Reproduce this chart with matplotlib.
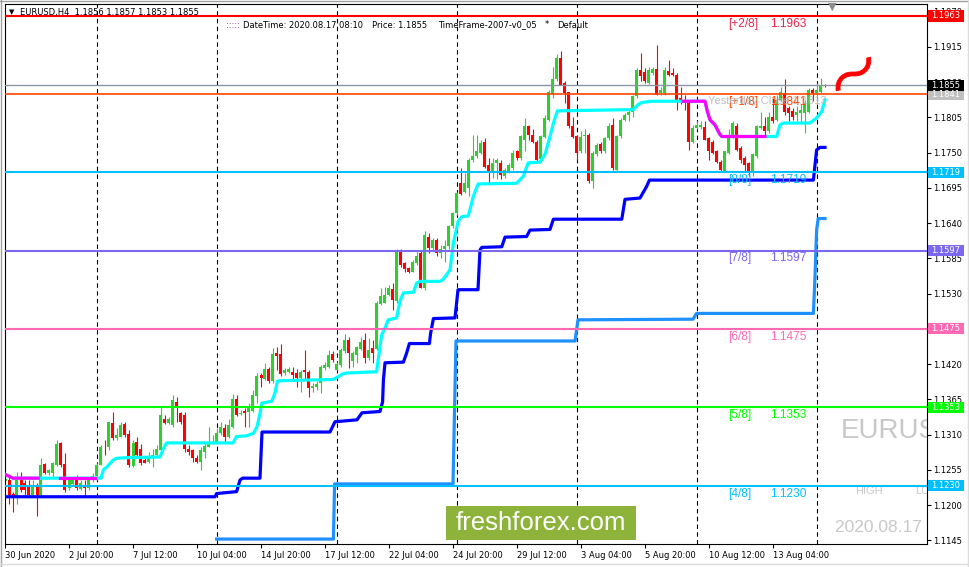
import matplotlib
matplotlib.use('Agg')
import matplotlib.pyplot as plt
import numpy as np
from matplotlib.patches import Rectangle, PathPatch
from matplotlib.lines import Line2D
from matplotlib.textpath import TextPath
from matplotlib.font_manager import FontProperties
from matplotlib.transforms import blended_transform_factory, Affine2D, ScaledTranslation

# EURUSD H4 candles, 30 Jun 04:00 .. 17 Aug 08:00 (one entry per bar)
opens = [
    1.1237, 1.1239, 1.1217, 1.1213, 1.1244, 1.1235, 1.1229, 1.1216, 1.1230, 1.1216,
    1.1264, 1.1250, 1.1250, 1.1263, 1.1297, 1.1264, 1.1226, 1.1233, 1.1244, 1.1225,
    1.1230, 1.1226, 1.1242, 1.1246, 1.1262, 1.1291, 1.1291, 1.1328, 1.1304, 1.1307,
    1.1327, 1.1311, 1.1261, 1.1299, 1.1287, 1.1270, 1.1268, 1.1274, 1.1278, 1.1286,
    1.1335, 1.1328, 1.1325, 1.1361, 1.1343, 1.1340, 1.1288, 1.1286, 1.1274, 1.1268,
    1.1283, 1.1291, 1.1296, 1.1299, 1.1312, 1.1320, 1.1307, 1.1322, 1.1366, 1.1342,
    1.1347, 1.1346, 1.1347, 1.1370, 1.1403, 1.1396, 1.1412, 1.1393, 1.1438, 1.1436,
    1.1406, 1.1408, 1.1408, 1.1406, 1.1398, 1.1410, 1.1408, 1.1382, 1.1385, 1.1390,
    1.1414, 1.1416, 1.1436, 1.1411, 1.1419, 1.1440, 1.1458, 1.1425, 1.1434, 1.1443,
    1.1457, 1.1429, 1.1445, 1.1443, 1.1514, 1.1516, 1.1528, 1.1537, 1.1518, 1.1596,
    1.1577, 1.1570, 1.1564, 1.1577, 1.1593, 1.1538, 1.1619, 1.1601, 1.1614, 1.1594,
    1.1600, 1.1604, 1.1635, 1.1656, 1.1703, 1.1689, 1.1695, 1.1738, 1.1744, 1.1750,
    1.1766, 1.1731, 1.1721, 1.1733, 1.1734, 1.1714, 1.1719, 1.1726, 1.1752, 1.1741,
    1.1770, 1.1791, 1.1778, 1.1767, 1.1740, 1.1775, 1.1801, 1.1843, 1.1864, 1.1897,
    1.1858, 1.1844, 1.1791, 1.1775, 1.1752, 1.1776, 1.1778, 1.1705, 1.1747, 1.1764,
    1.1752, 1.1773, 1.1793, 1.1723, 1.1776, 1.1801, 1.1809, 1.1814, 1.1838, 1.1878,
    1.1875, 1.1858, 1.1874, 1.1880, 1.1843, 1.1843, 1.1877, 1.1874, 1.1871, 1.1835,
    1.1832, 1.1827, 1.1767, 1.1788, 1.1790, 1.1790, 1.1773, 1.1767, 1.1752, 1.1735,
    1.1721, 1.1750, 1.1773, 1.1791, 1.1757, 1.1741, 1.1733, 1.1718, 1.1744, 1.1788,
    1.1791, 1.1783, 1.1806, 1.1801, 1.1832, 1.1843, 1.1819, 1.1814, 1.1809, 1.1812,
    1.1812, 1.1814, 1.1848, 1.1843, 1.1845, 1.1856]
highs = [
    1.1250, 1.1244, 1.1220, 1.1252, 1.1252, 1.1239, 1.1239, 1.1239, 1.1234, 1.1273,
    1.1266, 1.1257, 1.1268, 1.1301, 1.1299, 1.1281, 1.1242, 1.1244, 1.1247, 1.1239,
    1.1239, 1.1244, 1.1250, 1.1265, 1.1294, 1.1301, 1.1330, 1.1346, 1.1320, 1.1330,
    1.1330, 1.1317, 1.1301, 1.1307, 1.1296, 1.1273, 1.1283, 1.1288, 1.1294, 1.1353,
    1.1340, 1.1338, 1.1372, 1.1369, 1.1346, 1.1346, 1.1294, 1.1288, 1.1278, 1.1291,
    1.1299, 1.1322, 1.1309, 1.1320, 1.1330, 1.1327, 1.1335, 1.1374, 1.1372, 1.1348,
    1.1351, 1.1359, 1.1380, 1.1406, 1.1406, 1.1421, 1.1416, 1.1445, 1.1447, 1.1452,
    1.1414, 1.1416, 1.1416, 1.1412, 1.1411, 1.1442, 1.1411, 1.1390, 1.1393, 1.1419,
    1.1424, 1.1442, 1.1440, 1.1424, 1.1445, 1.1467, 1.1463, 1.1440, 1.1448, 1.1463,
    1.1468, 1.1460, 1.1458, 1.1518, 1.1538, 1.1541, 1.1544, 1.1546, 1.1599, 1.1599,
    1.1580, 1.1572, 1.1583, 1.1596, 1.1596, 1.1627, 1.1624, 1.1616, 1.1617, 1.1606,
    1.1614, 1.1637, 1.1658, 1.1689, 1.1726, 1.1718, 1.1741, 1.1778, 1.1778, 1.1770,
    1.1773, 1.1741, 1.1741, 1.1741, 1.1739, 1.1726, 1.1734, 1.1754, 1.1754, 1.1778,
    1.1804, 1.1793, 1.1786, 1.1770, 1.1778, 1.1809, 1.1848, 1.1884, 1.1904, 1.1908,
    1.1861, 1.1845, 1.1806, 1.1778, 1.1783, 1.1786, 1.1780, 1.1752, 1.1765, 1.1766,
    1.1775, 1.1796, 1.1804, 1.1778, 1.1804, 1.1812, 1.1817, 1.1840, 1.1882, 1.1905,
    1.1882, 1.1883, 1.1884, 1.1918, 1.1853, 1.1884, 1.1895, 1.1882, 1.1874, 1.1853,
    1.1840, 1.1830, 1.1793, 1.1799, 1.1799, 1.1799, 1.1775, 1.1770, 1.1754, 1.1739,
    1.1752, 1.1786, 1.1799, 1.1796, 1.1760, 1.1744, 1.1736, 1.1749, 1.1793, 1.1814,
    1.1806, 1.1814, 1.1835, 1.1840, 1.1853, 1.1864, 1.1822, 1.1819, 1.1822, 1.1825,
    1.1832, 1.1850, 1.1851, 1.1858, 1.1866, 1.1857]
lows = [
    1.1230, 1.1202, 1.1190, 1.1202, 1.1221, 1.1216, 1.1213, 1.1213, 1.1183, 1.1213,
    1.1248, 1.1247, 1.1244, 1.1261, 1.1260, 1.1221, 1.1223, 1.1230, 1.1223, 1.1223,
    1.1216, 1.1223, 1.1236, 1.1239, 1.1262, 1.1278, 1.1286, 1.1302, 1.1302, 1.1307,
    1.1307, 1.1260, 1.1260, 1.1276, 1.1262, 1.1265, 1.1266, 1.1260, 1.1275, 1.1283,
    1.1327, 1.1327, 1.1322, 1.1330, 1.1327, 1.1283, 1.1278, 1.1268, 1.1265, 1.1254,
    1.1273, 1.1291, 1.1296, 1.1299, 1.1309, 1.1299, 1.1304, 1.1320, 1.1339, 1.1340,
    1.1322, 1.1322, 1.1346, 1.1359, 1.1385, 1.1395, 1.1390, 1.1391, 1.1411, 1.1401,
    1.1403, 1.1406, 1.1395, 1.1385, 1.1376, 1.1395, 1.1369, 1.1377, 1.1380, 1.1375,
    1.1411, 1.1414, 1.1424, 1.1410, 1.1416, 1.1438, 1.1414, 1.1416, 1.1421, 1.1442,
    1.1421, 1.1427, 1.1421, 1.1442, 1.1512, 1.1515, 1.1526, 1.1505, 1.1515, 1.1572,
    1.1564, 1.1562, 1.1563, 1.1575, 1.1538, 1.1536, 1.1593, 1.1596, 1.1588, 1.1585,
    1.1580, 1.1599, 1.1632, 1.1653, 1.1684, 1.1687, 1.1682, 1.1736, 1.1741, 1.1747,
    1.1726, 1.1702, 1.1710, 1.1709, 1.1708, 1.1710, 1.1718, 1.1723, 1.1739, 1.1739,
    1.1752, 1.1770, 1.1765, 1.1736, 1.1736, 1.1773, 1.1799, 1.1835, 1.1861, 1.1856,
    1.1827, 1.1788, 1.1773, 1.1739, 1.1749, 1.1749, 1.1702, 1.1695, 1.1745, 1.1749,
    1.1749, 1.1770, 1.1723, 1.1721, 1.1773, 1.1799, 1.1799, 1.1806, 1.1835, 1.1861,
    1.1858, 1.1857, 1.1871, 1.1840, 1.1840, 1.1840, 1.1869, 1.1869, 1.1817, 1.1825,
    1.1817, 1.1754, 1.1765, 1.1786, 1.1786, 1.1770, 1.1739, 1.1747, 1.1734, 1.1721,
    1.1721, 1.1747, 1.1773, 1.1752, 1.1734, 1.1721, 1.1713, 1.1713, 1.1741, 1.1786,
    1.1778, 1.1780, 1.1796, 1.1799, 1.1830, 1.1809, 1.1799, 1.1801, 1.1799, 1.1796,
    1.1781, 1.1812, 1.1830, 1.1838, 1.1843, 1.1853]
closes = [
    1.1240, 1.1216, 1.1212, 1.1239, 1.1223, 1.1223, 1.1216, 1.1231, 1.1216, 1.1262,
    1.1250, 1.1254, 1.1265, 1.1296, 1.1262, 1.1223, 1.1239, 1.1240, 1.1226, 1.1234,
    1.1226, 1.1242, 1.1246, 1.1262, 1.1291, 1.1290, 1.1330, 1.1304, 1.1309, 1.1325,
    1.1309, 1.1262, 1.1297, 1.1278, 1.1265, 1.1266, 1.1275, 1.1278, 1.1288, 1.1340,
    1.1328, 1.1334, 1.1364, 1.1351, 1.1330, 1.1288, 1.1283, 1.1273, 1.1268, 1.1286,
    1.1292, 1.1296, 1.1299, 1.1312, 1.1322, 1.1307, 1.1325, 1.1366, 1.1340, 1.1344,
    1.1343, 1.1353, 1.1372, 1.1402, 1.1398, 1.1412, 1.1393, 1.1435, 1.1433, 1.1405,
    1.1411, 1.1413, 1.1403, 1.1398, 1.1408, 1.1407, 1.1382, 1.1386, 1.1389, 1.1415,
    1.1419, 1.1434, 1.1427, 1.1420, 1.1442, 1.1457, 1.1437, 1.1437, 1.1447, 1.1455,
    1.1429, 1.1442, 1.1437, 1.1515, 1.1526, 1.1528, 1.1538, 1.1520, 1.1596, 1.1575,
    1.1568, 1.1564, 1.1580, 1.1588, 1.1538, 1.1622, 1.1601, 1.1614, 1.1593, 1.1600,
    1.1604, 1.1635, 1.1656, 1.1687, 1.1686, 1.1703, 1.1739, 1.1744, 1.1752, 1.1765,
    1.1728, 1.1721, 1.1734, 1.1738, 1.1715, 1.1723, 1.1731, 1.1750, 1.1741, 1.1775,
    1.1791, 1.1778, 1.1767, 1.1739, 1.1775, 1.1804, 1.1845, 1.1865, 1.1897, 1.1856,
    1.1843, 1.1791, 1.1775, 1.1749, 1.1775, 1.1778, 1.1705, 1.1749, 1.1762, 1.1752,
    1.1773, 1.1792, 1.1726, 1.1776, 1.1801, 1.1809, 1.1814, 1.1838, 1.1878, 1.1870,
    1.1861, 1.1878, 1.1880, 1.1840, 1.1848, 1.1879, 1.1871, 1.1871, 1.1832, 1.1830,
    1.1828, 1.1767, 1.1788, 1.1793, 1.1793, 1.1770, 1.1752, 1.1749, 1.1736, 1.1723,
    1.1752, 1.1773, 1.1796, 1.1754, 1.1739, 1.1731, 1.1718, 1.1747, 1.1791, 1.1792,
    1.1783, 1.1806, 1.1799, 1.1832, 1.1845, 1.1814, 1.1812, 1.1806, 1.1814, 1.1817,
    1.1827, 1.1848, 1.1843, 1.1848, 1.1856, 1.1855]

x_labels = ['30 Jun 2020', '2 Jul 20:00', '7 Jul 12:00', '10 Jul 04:00', '14 Jul 20:00',
            '17 Jul 12:00', '22 Jul 04:00', '24 Jul 20:00', '29 Jul 12:00', '3 Aug 04:00',
            '5 Aug 20:00', '10 Aug 12:00', '13 Aug 04:00']
monday_bars = [23, 53, 83, 113, 143, 173, 203]

# trailing line (cyan, magenta while in down mode), knots as (bar, price)
trend_x = [0, 2, 8.3, 13.75, 22.5, 24, 24.6, 25.4, 27, 27.9, 30.4, 38.75, 39.6, 40.4, 57,
           57.9, 60.4, 62.1, 63, 63.75, 64.2, 66.7, 67.5, 68.1, 68.75, 82.1, 84.6, 85.4,
           92.9, 93.3, 93.75, 94.2, 95, 95.8, 97.9, 98.3, 98.75, 99.6, 102.1, 102.9, 103.75,
           108.75, 109.5, 110.5, 111.25, 112.1, 113.3, 114.2, 115.8, 116.25, 117.1, 118.3,
           127.9, 129.6, 130.8, 133.75, 135, 136.25, 137.1, 138.1, 157.1, 158.3, 159.2,
           161.7, 169.6, 175, 175.6, 176.25, 177.5, 178.75, 179.2, 190, 192.9, 193.75,
           194.6, 201.25, 202.9, 204.2, 205]
trend_y = [1.1248, 1.1242, 1.1242, 1.1242, 1.1242, 1.1242, 1.1255, 1.1259, 1.1270, 1.1273,
           1.1274, 1.1275, 1.1288, 1.1297, 1.1297, 1.1307, 1.1308, 1.1312, 1.1322, 1.1343,
           1.1359, 1.1362, 1.1375, 1.1393, 1.1394, 1.1396, 1.1405, 1.1406, 1.1408, 1.1427,
           1.1447, 1.1466, 1.1476, 1.1489, 1.1492, 1.1505, 1.1518, 1.1531, 1.1532, 1.1546,
           1.1549, 1.1549, 1.1552, 1.1560, 1.1567, 1.1609, 1.1643, 1.1650, 1.1651, 1.1661,
           1.1682, 1.1701, 1.1702, 1.1713, 1.1734, 1.1735, 1.1747, 1.1775, 1.1796, 1.1815,
           1.1817, 1.1825, 1.1828, 1.1830, 1.1830, 1.1830, 1.1814, 1.1801, 1.1793, 1.1778,
           1.1775, 1.1775, 1.1775, 1.1793, 1.1796, 1.1796, 1.1804, 1.1814, 1.1832]
magenta_ranges = [(0, 8.3), (13.75, 22.5), (169.6, 190)]

blue_x = [0, 52.5, 52.9, 57.9, 58.75, 59.4, 63.75, 64.25, 81.25, 82.5, 88, 89.25, 93.75,
          94.4, 94.6, 95, 99.6, 100.4, 101.1, 106.1, 106.4, 107.1, 112.5, 113.25, 118.25,
          118.75, 119.2, 124.2, 125, 130.4, 131.25, 136.25, 137.1, 154.2, 155, 158.75,
          160.4, 161.1, 202.1, 202.9, 203.75, 205]
blue_y = [1.1213, 1.1213, 1.1218, 1.1221, 1.1239, 1.1242, 1.1242, 1.1314, 1.1314, 1.1330,
          1.1333, 1.1344, 1.1346, 1.1361, 1.1395, 1.1422, 1.1423, 1.1437, 1.1452, 1.1452,
          1.1468, 1.1491, 1.1492, 1.1536, 1.1536, 1.1598, 1.1602, 1.1603, 1.1618, 1.1619,
          1.1629, 1.1630, 1.1646, 1.1646, 1.1677, 1.1679, 1.1697, 1.1707, 1.1707, 1.1754,
          1.1758, 1.1758]

dodger_x = [52.9, 82.1, 82.4, 112, 112.75, 142.5, 143.25, 172, 172.9, 202.1, 202.5, 202.9,
            203.3, 205]
dodger_y = [1.1147, 1.1147, 1.1233, 1.1233, 1.1456, 1.1456, 1.1489, 1.1490, 1.1499, 1.1499,
            1.1556, 1.1629, 1.1647, 1.1647]

levels = [1.1963, 1.1841, 1.1719, 1.1597, 1.1475, 1.1353, 1.1230]
level_names = ['[+2/8]', '[+1/8]', '[8/8]', '[7/8]', '[6/8]', '[5/8]', '[4/8]']
level_colors = ['#FF0000', '#FF4500', '#00BFFF', '#7B68EE', '#FF69B4', '#00FF00', '#00BFFF']
level_text_colors = ['#E8264A', '#FF4500', '#00BFFF', '#7B68EE', '#FF69B4', '#00FF00', '#00BFFF']
level_box_colors = ['#FF0000', '#C0C0C0', '#00BFFF', '#7B68EE', '#FF69B4', '#00FF00', '#00BFFF']
bid = 1.1855
yesterday_close = 1.1813

W, H = 970, 567
fig = plt.figure(figsize=(W / 100, H / 100), dpi=100)
fig.patch.set_facecolor('white')
ax = fig.add_axes([4.7 / W, 1 - 544 / H, (927.3 - 4.7) / W, (544 - 4) / H])
ax.set_xlim(-0.075, 230.575)
ax.set_ylim(1.11393, 1.19817)

# week separators
for b in monday_bars:
    ax.axvline(b, color='black', lw=0.8, ls=(0, (4, 3)), zorder=0.5)

# candles
o, h, l, c = map(np.array, (opens, highs, lows, closes))
xb = np.arange(len(c))
col = np.where(c >= o, '#32CD32', '#FF0000')
ax.vlines(xb, l, h, colors=col, lw=0.8, zorder=2)
ax.bar(xb, np.maximum(np.abs(c - o), 0.00005), bottom=np.minimum(o, c), width=0.75,
       color=col, linewidth=0, zorder=2)

# indicator lines
tx, ty = np.array(trend_x), np.array(trend_y)
ax.plot(tx, ty, color='#00FFFF', lw=2.3, zorder=3)
for a, b in magenta_ranges:
    m = (tx >= a) & (tx <= b)
    ax.plot(tx[m], ty[m], color='#FF00FF', lw=2.3, zorder=3.1)
ax.plot(blue_x, blue_y, color='#0000FF', lw=2.3, zorder=3)
ax.plot(dodger_x, dodger_y, color='#1E90FF', lw=2.3, zorder=3)

# murrey levels
lab_font = 'Liberation Sans'
for lvl, name, lc, tc in zip(levels, level_names, level_colors, level_text_colors):
    ax.axhline(lvl, color=lc, lw=1.2 if name == '[+1/8]' else 1.5, zorder=4)
    ax.text(180.75, lvl - 0.0012, name, color=tc, fontsize=8.6, family=lab_font,
            va='center', zorder=5)
    ax.text(191.25, lvl - 0.0012, f'{lvl:.4f}', color=tc, fontsize=8.6, family=lab_font,
            va='center', zorder=5)
ax.axhline(bid, color='#8A96A3', lw=1, zorder=4)
ax.text(175.75, 1.1830, f'Yesterday Close {yesterday_close:.4f}', color='#B4B4B4',
        fontsize=8, family=lab_font, va='center', alpha=0.85, zorder=6)

# price boxes on the right axis
trans = blended_transform_factory(ax.transAxes, ax.transData)
boxes = list(zip(levels, level_box_colors)) + [(bid, 'black')]
for val, face in boxes:
    ax.add_patch(Rectangle((1.001, val - 0.00086), 0.0385, 0.00172, transform=trans,
                           facecolor=face, edgecolor='none', clip_on=False, zorder=10))
    ax.text(1.001 + 0.01925, val, f'{val:.4f}', transform=trans, color='white', fontsize=6,
            ha='center', va='center', clip_on=False, zorder=11)

# axes, ticks
for s in ax.spines.values():
    s.set_color('black')
    s.set_linewidth(0.8)
ax.yaxis.tick_right()
yt = np.arange(1.1145, 1.1975, 0.0055)
ax.set_yticks(yt)
ax.set_yticklabels([f'{v:.4f}' for v in yt])
ax.tick_params(axis='y', direction='out', length=3, width=0.8, pad=1.5, labelsize=6)
ax.set_xticks(np.arange(0, len(c), 16))
ax.set_xticklabels(x_labels, ha='left')
ax.tick_params(axis='x', direction='out', length=3, width=0.8, pad=2, labelsize=6)

# watermark texts
ax.text(209, 1.13062, 'EURUSD,H4', color='#C8C8C8', fontsize=20, family=lab_font,
        va='baseline', clip_on=True)
ax.text(212.5, 1.12173, 'HIGH', color='#C8C8C8', fontsize=8, family=lab_font,
        va='baseline', clip_on=True)
ax.text(227.5, 1.12173, 'LOW', color='#C8C8C8', fontsize=8, family=lab_font,
        va='baseline', clip_on=True)
ax.text(207.5, 1.11580, '2020.08.17 08:10', color='#C8C8C8', fontsize=12.5, family=lab_font,
        va='baseline', clip_on=True)

# hand-drawn red wave next to the last bar (a rotated wave-dash glyph)
tp = TextPath((0, 0), '\u301c', size=1, prop=FontProperties(family='Noto Sans CJK JP'))
ext = tp.get_extents()
k = 48 / ext.width
wave_tr = (Affine2D().translate(-(ext.x0 + ext.x1) / 2, -(ext.y0 + ext.y1) / 2)
           .scale(k, k * 0.9).rotate_deg(40)
           + ScaledTranslation(212.1, 1.18725, ax.transData))
ax.add_patch(PathPatch(tp, transform=wave_tr, facecolor='#FF0000', edgecolor='#FF0000',
                       lw=0.6, clip_on=False, zorder=6))

# header
fig.text(9 / W, 1 - 12 / H, '\u25bc', fontsize=5, va='center')
fig.text(20 / W, 1 - 12 / H, 'EURUSD,H4  1.1856 1.1857 1.1853 1.1855', fontsize=6, va='center')
hy = 1 - 25 / H
fig.text(226 / W, hy, ':::::', color='#800080', fontsize=6, va='center')
fig.text(243 / W, hy, 'DateTime: 2020.08.17 08:10', fontsize=6, va='center')
fig.text(372 / W, hy, 'Price: 1.1855', fontsize=6, va='center')
fig.text(438 / W, hy, 'TimeFrame-2007-v0_05', fontsize=6, va='center')
fig.text(545 / W, hy, '*', fontsize=6, va='center')
fig.text(557 / W, hy, 'Default', fontsize=6, va='center')
fig.text(832.5 / W, 1 - 7 / H, '\u25bc', color='#8C8C8C', fontsize=8, ha='center', va='center')

# logo
fig.add_artist(Rectangle((446 / W, 1 - 540 / H), 190 / W, 34 / H, transform=fig.transFigure,
                         facecolor='#8DB33A', edgecolor='none', zorder=20))
fig.text(541 / W, 1 - 523 / H, 'freshforex.com', color='white', fontsize=18.5,
         family=lab_font, ha='center', va='center', zorder=21)

# window border
for xs, ys, cl in [([0.5 / W] * 2, [0, 1], '#a0a0a0'), ([0, 1], [1 - 0.5 / H] * 2, '#a0a0a0'),
                   ([968 / W] * 2, [0, 1], '#dcdcdc'), ([0, 1], [1 - 563.5 / H] * 2, '#dcdcdc')]:
    fig.add_artist(Line2D(xs, ys, transform=fig.transFigure, color=cl, lw=1))

fig.savefig('out.png', dpi=100)
